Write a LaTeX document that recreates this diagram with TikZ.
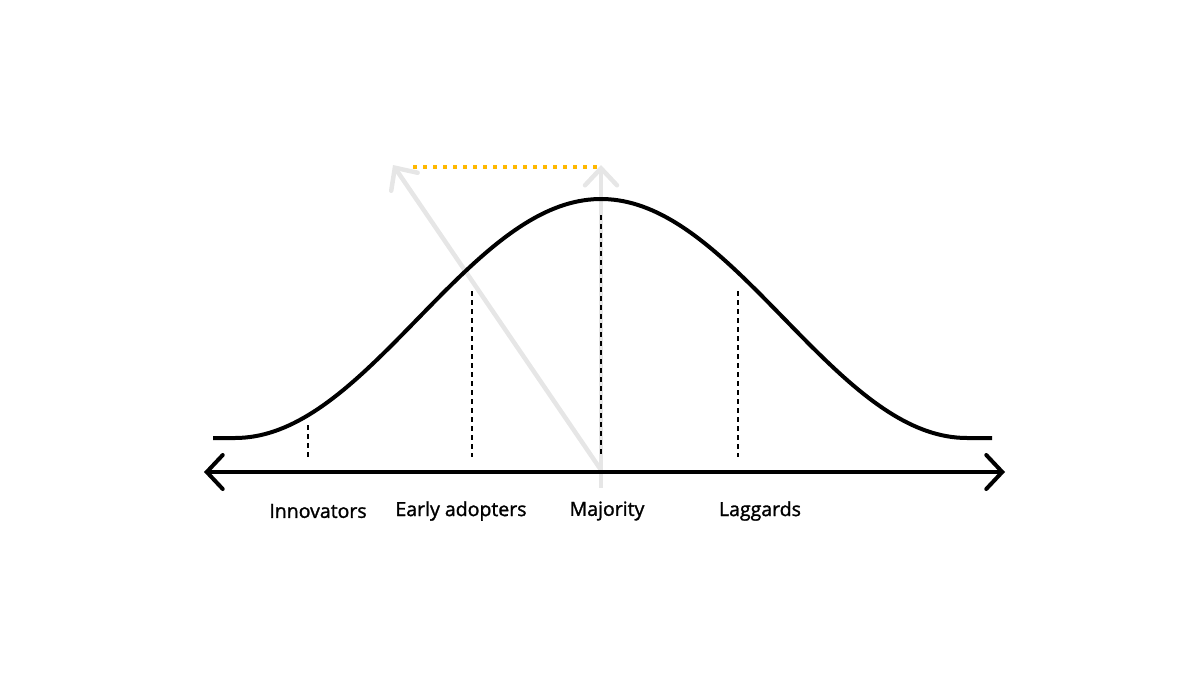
\documentclass[tikz,border=0pt]{standalone}
\usepackage{fontspec}
\setmainfont{Open Sans}
\newfontfamily\lblfont{Open Sans}[BoldFont={Open Sans}, BoldFeatures={FakeBold=1.4}]
\usetikzlibrary{arrows.meta}
\definecolor{ghostgray}{HTML}{E6E6E6}
\definecolor{dotorange}{HTML}{FFB800}

\begin{document}
\begin{tikzpicture}
[
    x=1pt, y=-1pt,
    axisline/.style={line width=4pt, {Straight Barb[length=16pt,width=34pt,line cap=round]}-{Straight Barb[length=16pt,width=34pt,line cap=round]}},
    ghost/.style={draw=ghostgray, line width=4.5pt, -{Straight Barb[length=17pt,width=32pt,line cap=round]}},
    bell/.style={line width=4pt},
    marker/.style={line width=1.4pt, dash pattern=on 5pt off 4pt},
    dotline/.style={draw=dotorange, line width=4pt, dash pattern=on 4pt off 6pt},
    lbl/.style={font=\lblfont\bfseries\fontsize{19.5}{22}\selectfont, text=black},
]
\useasboundingbox (0,0) rectangle (1200,675);

\coordinate (base) at (601,470);
\coordinate (low) at (601,488);
\coordinate (toptip) at (601,165);
\coordinate (lefttip) at (393,165);
\draw[ghost] (low) -- (toptip);
\draw[ghost] (base) -- (lefttip);

\draw[bell] (213,438) -- plot[domain=-366:366, samples=150]
    ({601+\x}, {438-119.5*(1+cos(\x/366*180))}) -- (992,438);

\foreach \n/\x/\t in {innov/308/425, early/472/291, major/601/215, lagg/738/291}
{
    \coordinate (\n-top) at (\x,\t);
    \coordinate (\n-bot) at (\x,457);
    \draw[marker] (\n-top) -- (\n-bot);
}

\coordinate (axl) at (204,472);
\coordinate (axr) at (1005,472);
\draw[axisline] (axl) -- (axr);

\coordinate (dotl) at (413,167);
\coordinate (dotr) at (597,167);
\draw[dotline] (dotl) -- (dotr);

\node[lbl] (innov) at (318,511) {Innovators};
\node[lbl] (early) at (461,511) {Early adopters};
\node[lbl] (major) at (607,511) {Majority};
\node[lbl] (lagg) at (760,511) {Laggards};
\end{tikzpicture}
\end{document}
